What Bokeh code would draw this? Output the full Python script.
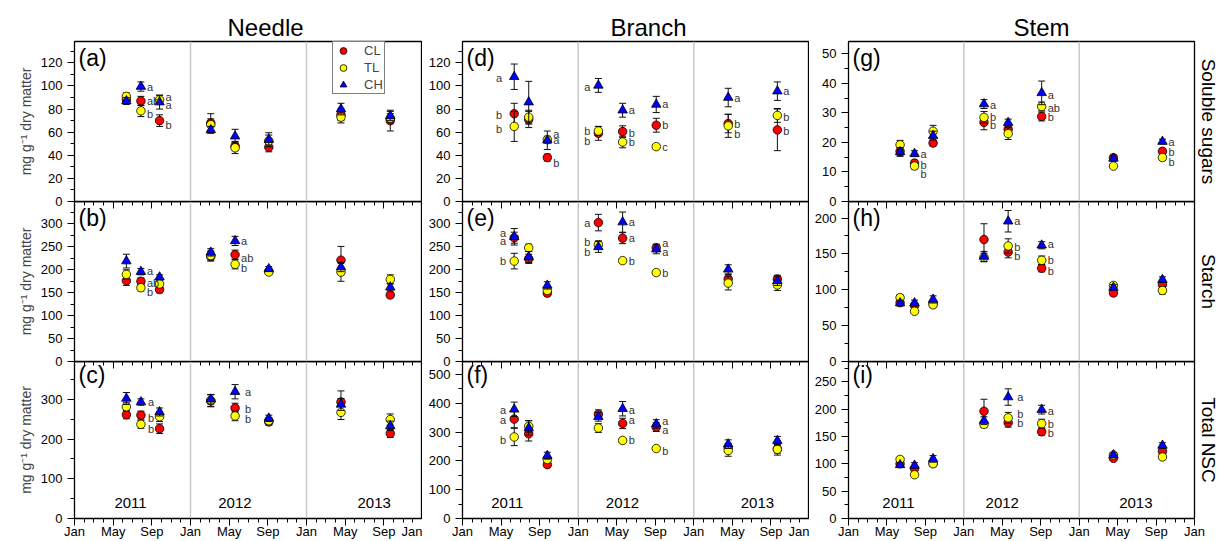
import calendar
from bokeh.plotting import figure
from bokeh.models import Range1d, FixedTicker, Span, Label, Legend, LegendItem, Title, LinearAxis
from bokeh.layouts import row, column
from bokeh.embed import file_html
from bokeh.resources import INLINE
from bokeh.core.properties import value

# ---------------- data ----------------
sample_dates = ["2011-06-12", "2011-07-28", "2011-09-25", "2012-03-04",
                "2012-05-20", "2012-09-04", "2013-04-18", "2013-09-21"]
treatments = ["CL", "TL", "CH"]
organs = ["Needle", "Branch", "Stem"]
variables = ["Soluble sugars", "Starch", "Total NSC"]
panel_tags = [["(a)", "(b)", "(c)"], ["(d)", "(e)", "(f)"], ["(g)", "(h)", "(i)"]]
month_labels = ["Jan", "May", "Sep", "Jan", "May", "Sep", "Jan", "May", "Sep", "Jan"]
year_labels = ["2011", "2012", "2013"]
y_title = "mg g\u207b\u00b9 dry matter"

# Needle
needle_sugar = {"CL": [88, 87, 70, 68, 48, 47, 75, 70],
                "TL": [91, 78.5, 88, 66.5, 46.5, 52.5, 73, 72],
                "CH": [87, 99.5, 86, 62, 56.5, 53.5, 80, 74]}
needle_sugar_se = {"CL": [3, 4, 5, 8, 4, 4, 5, 9],
                   "TL": [3, 5, 4, 5, 5, 5, 5, 4],
                   "CH": [3, 4, 6, 3, 6, 6, 5, 4]}
needle_sugar_sig = {"CL": ["", "ab", "b", "", "", "", "", ""],
                    "TL": ["", "b", "a", "", "", "", "", ""],
                    "CH": ["", "a", "a", "", "", "", "", ""]}

needle_starch = {"CL": [176, 175, 157, 229, 233, 197, 221, 145],
                 "TL": [190, 161, 169, 231, 212, 195, 195, 179],
                 "CH": [219, 196, 184, 238, 263, 202, 206, 162]}
needle_starch_se = {"CL": [10, 7, 7, 10, 10, 5, 30, 6],
                    "TL": [10, 7, 7, 10, 10, 5, 20, 10],
                    "CH": [15, 7, 5, 8, 10, 5, 10, 8]}
needle_starch_sig = {"CL": ["", "ab", "", "", "ab", "", "", ""],
                     "TL": ["", "b", "", "", "b", "", "", ""],
                     "CH": ["", "a", "", "", "a", "", "", ""]}

needle_nsc = {"CL": [261, 260, 226, 296, 278, 243, 293, 214],
              "TL": [281, 237, 256, 297, 258, 246, 267, 249],
              "CH": [302, 293, 268, 300, 319, 252, 287, 233]}
needle_nsc_se = {"CL": [10, 10, 12, 15, 12, 8, 28, 10],
                 "TL": [10, 10, 12, 15, 12, 8, 18, 14],
                 "CH": [15, 8, 10, 12, 18, 8, 15, 12]}
needle_nsc_sig = {"CL": ["", "b", "", "", "b", "", "", ""],
                  "TL": ["", "b", "", "", "b", "", "", ""],
                  "CH": ["", "a", "", "", "a", "", "", ""]}

# Branch
branch_sugar = {"CL": [76, 71, 38, 59, 60.5, 66, 67.5, 62],
                "TL": [65, 73, 53.5, 61, 51.5, 47.5, 65.5, 74.5],
                "CH": [108, 86, 53, 100.5, 79, 84, 90, 95.5]}
branch_sugar_se = {"CL": [9, 7, 3, 6, 5, 6, 8, 18],
                   "TL": [13, 6, 3, 4, 5, 2, 10, 6],
                   "CH": [11, 18, 8, 6, 6, 7, 8, 8]}
branch_sugar_sig = {"CL": ["b", "", "b", "b", "b", "b", "b", "b"],
                    "TL": ["b", "", "a", "b", "b", "c", "b", "b"],
                    "CH": ["a", "", "a", "a", "a", "a", "a", "a"]}

branch_starch = {"CL": [270, 224, 149, 303, 269, 248, 180, 180],
                 "TL": [219, 248, 155, 255, 220, 194, 171, 167],
                 "CH": [272, 228, 166, 250, 304, 245, 201, 176]}
branch_starch_se = {"CL": [12, 10, 6, 18, 12, 8, 10, 8],
                    "TL": [17, 8, 6, 8, 5, 5, 15, 12],
                    "CH": [18, 12, 8, 12, 22, 10, 10, 10]}
branch_starch_sig = {"CL": ["a", "", "", "a", "a", "a", "", ""],
                     "TL": ["b", "", "", "b", "b", "b", "", ""],
                     "CH": ["a", "", "", "b", "a", "a", "", ""]}

branch_nsc = {"CL": [345, 294, 187, 362, 330, 317, 246, 242],
              "TL": [283, 320, 205, 314, 271, 243, 236, 240],
              "CH": [379, 314, 218, 353, 381, 328, 258, 270]}
branch_nsc_se = {"CL": [30, 25, 10, 15, 18, 15, 15, 15],
                 "TL": [30, 20, 10, 15, 8, 6, 20, 20],
                 "CH": [25, 25, 12, 15, 25, 15, 15, 15]}
branch_nsc_sig = {"CL": ["a", "", "", "", "a", "a", "", ""],
                  "TL": ["b", "", "", "", "b", "b", "", ""],
                  "CH": ["a", "", "", "", "a", "a", "", ""]}

# Stem
stem_sugar = {"CL": [17, 13, 19.8, 26.8, 24.5, 28.8, 14.8, 17],
              "TL": [19.2, 12, 23.8, 28.5, 23, 32.2, 12, 14.9],
              "CH": [16.8, 16.2, 22.3, 33, 26.7, 36.8, 14.6, 20.3]}
stem_sugar_se = {"CL": [1.5, 1, 1, 2.5, 2, 1.5, 1, 1],
                 "TL": [1.5, 1, 2, 2, 2, 1.5, 0.8, 1],
                 "CH": [1.5, 1, 1.5, 1.5, 1.2, 4, 0.8, 0.8]}
stem_sugar_sig = {"CL": ["", "b", "", "b", "", "b", "", "b"],
                  "TL": ["", "b", "", "b", "", "ab", "", "b"],
                  "CH": ["", "a", "", "a", "", "a", "", "a"]}

stem_starch = {"CL": [82, 78, 81, 170, 152.5, 130, 95.5, 107],
               "TL": [89, 70, 79, 145, 161, 141, 106, 99],
               "CH": [81.5, 81.5, 86.5, 146.5, 195.5, 162, 103, 114]}
stem_starch_se = {"CL": [4, 4, 4, 22, 8, 5, 4, 5],
                  "TL": [4, 3, 4, 6, 10, 6, 4, 5],
                  "CH": [4, 4, 5, 7, 15, 5, 4, 4]}
stem_starch_sig = {"CL": ["", "", "", "", "b", "b", "", ""],
                   "TL": ["", "", "", "", "b", "b", "", ""],
                   "CH": ["", "", "", "", "a", "a", "", ""]}

stem_nsc = {"CL": [100, 91, 101, 196, 175, 158.5, 110, 123],
            "TL": [108, 80, 100, 172, 184, 173.5, 116, 112.5],
            "CH": [98, 97, 109, 179, 222, 199, 116, 133.5]}
stem_nsc_se = {"CL": [5, 4, 5, 22, 8, 6, 4, 5],
               "TL": [4, 4, 5, 6, 10, 8, 4, 5],
               "CH": [4, 5, 6, 7, 15, 8, 4, 5]}
stem_nsc_sig = {"CL": ["", "", "", "", "b", "b", "", ""],
                "TL": ["", "", "", "", "b", "b", "", ""],
                "CH": ["", "", "", "", "a", "a", "", ""]}

panel_data = [
    [(needle_sugar, needle_sugar_se, needle_sugar_sig),
     (needle_starch, needle_starch_se, needle_starch_sig),
     (needle_nsc, needle_nsc_se, needle_nsc_sig)],
    [(branch_sugar, branch_sugar_se, branch_sugar_sig),
     (branch_starch, branch_starch_se, branch_starch_sig),
     (branch_nsc, branch_nsc_se, branch_nsc_sig)],
    [(stem_sugar, stem_sugar_se, stem_sugar_sig),
     (stem_starch, stem_starch_se, stem_starch_sig),
     (stem_nsc, stem_nsc_se, stem_nsc_sig)],
]


def month_pos(s):
    y, m, d = map(int, s.split("-"))
    return (y - 2011) * 12 + (m - 1) + (d - 1) / calendar.monthrange(y, m)[1]


xs = [month_pos(s) for s in sample_dates]

# ---------------- style ----------------
FONT = "Liberation Sans"
FRAME_H = 160
OVERLAP = 10
col_geo = [(74, 348, 0), (40, 347, 0), (39, 346, 29)]
row_top = [41, 0, 0]
row_bottom = [OVERLAP, OVERLAP, 20]
title_offset = [153, 148, 165]
year_pos = [[5.8, 16.6, 31.0], [4.65, 16.6, 30.6], [5.2, 16.0, 29.9]]
major_months = list(range(0, 37, 4))
minor_months = [m for m in range(37) if m % 4]

y_axes = [
    [(138.5, range(0, 121, 20), range(10, 131, 20)),
     (349, range(0, 301, 50), range(25, 326, 50)),
     (395, range(0, 301, 100), range(50, 351, 100))],
    [(138.5, range(0, 121, 20), range(10, 131, 20)),
     (349, range(0, 301, 50), range(25, 326, 50)),
     (545, range(0, 501, 100), range(50, 451, 100))],
    [(54.2, range(0, 51, 10), range(5, 46, 10)),
     (223, range(0, 201, 50), range(25, 176, 50)),
     (287, range(0, 251, 50), range(25, 276, 50))],
]

colors = {"CL": "#ff0000", "TL": "#ffff00", "CH": "#0000ff"}
markers = {"CL": "circle", "TL": "circle", "CH": "triangle"}
msize = {"CL": 8.5, "TL": 8.5, "CH": 9.5}

left_side = {("(d)", 0), ("(d)", 3), ("(e)", 0), ("(e)", 3), ("(f)", 0)}
xoff = {("(c)", 4): 10, ("(i)", 4): 9, ("(d)", 0): -12, ("(c)", 1): 7}
nudge = {
    ("(a)", "TL", 1): -3.3, ("(a)", "TL", 2): 2.7, ("(a)", "CH", 2): -2.7, ("(a)", "CL", 2): -4.3,
    ("(d)", "CH", 0): -1, ("(d)", "CL", 0): -1, ("(d)", "TL", 0): -2.3, ("(d)", "TL", 2): 5.3,
    ("(d)", "CL", 2): -5, ("(d)", "CH", 3): -2, ("(d)", "CL", 3): -7.7, ("(d)", "CL", 4): -1.3,
    ("(d)", "TL", 6): -8, ("(d)", "TL", 7): -1.7, ("(d)", "CL", 7): -1.3,
    ("(g)", "CL", 1): -2.3, ("(g)", "TL", 1): -7.7, ("(g)", "CH", 3): -1.3, ("(g)", "CL", 3): -3,
    ("(g)", "CH", 5): -2, ("(g)", "TL", 5): -1.7, ("(g)", "CL", 5): -1, ("(g)", "CL", 7): -1,
    ("(g)", "TL", 7): -4,
    ("(b)", "CH", 1): 1, ("(b)", "CL", 1): -2, ("(b)", "TL", 1): -4.3, ("(b)", "CL", 4): -3,
    ("(b)", "TL", 4): -3.3,
    ("(e)", "CH", 0): 3.7, ("(e)", "CL", 0): -3, ("(e)", "TL", 3): 2.7, ("(e)", "CH", 3): -5.3,
    ("(e)", "CL", 5): 5, ("(e)", "CH", 5): -3,
    ("(h)", "TL", 4): -1, ("(h)", "CL", 4): -4.3, ("(h)", "CH", 5): 1, ("(h)", "CL", 5): -3,
    ("(c)", "CL", 1): -2.7, ("(c)", "TL", 1): -4.7, ("(c)", "CL", 4): -1.3, ("(c)", "TL", 4): -3,
    ("(f)", "CH", 0): -1, ("(f)", "CL", 0): -1, ("(f)", "TL", 0): -2.7, ("(f)", "CH", 4): -1.7,
    ("(f)", "CL", 4): 3.7, ("(f)", "CH", 5): 3.3, ("(f)", "CL", 5): -3.3, ("(f)", "TL", 5): -2.7,
    ("(i)", "TL", 4): 3.7, ("(i)", "CH", 5): -1, ("(i)", "CL", 5): -1.3,
}


def add_letters(p, tag, data, sig):
    for side in ("right", "left"):
        X, Y, T, XO, YO = [], [], [], [], []
        for s in treatments:
            for i, lab in enumerate(sig[s]):
                if not lab:
                    continue
                is_left = (tag, i) in left_side
                if (side == "left") != is_left:
                    continue
                X.append(xs[i])
                Y.append(data[s][i])
                T.append(lab)
                XO.append(xoff.get((tag, i), -8 if is_left else 6))
                YO.append(-nudge.get((tag, s, i), 0))
        if X:
            p.text(x=X, y=Y, text=T, x_offset=XO, y_offset=YO,
                   text_align="right" if side == "left" else "left",
                   text_baseline="middle", text_font_size="11px",
                   text_color="#333333", text_font=value(FONT))


def make_panel(ci, ri):
    lb, fw, rb = col_geo[ci]
    tb, bb = row_top[ri], row_bottom[ri]
    ytop, majors, minors = y_axes[ci][ri]
    p = figure(width=lb + fw + rb, height=tb + FRAME_H + bb,
               x_range=Range1d(0, 36), y_range=Range1d(0, ytop),
               output_backend="svg", toolbar_location=None, tools="", title=None,
               min_border_left=lb, min_border_right=rb,
               min_border_top=tb, min_border_bottom=bb,
               background_fill_color=None, border_fill_color=None,
               outline_line_color="black", outline_line_width=1.3)
    p.grid.visible = False

    xa = p.xaxis[0]
    xa.major_tick_in = 0
    xa.minor_tick_in = 0
    xa.axis_line_color = "black"
    xa.major_tick_line_color = "black"
    xa.minor_tick_line_color = "black"
    if ri < 2:
        # only the tick marks at the shared border (no labels)
        xa.ticker = FixedTicker(ticks=[], minor_ticks=major_months)
        xa.minor_tick_out = 7
        xa.major_tick_out = 0
        xa.major_label_standoff = 0
    else:
        xa.ticker = FixedTicker(ticks=major_months, minor_ticks=list(range(37)))
        xa.major_label_overrides = {t: lab for t, lab in zip(major_months, month_labels)}
        xa.major_tick_out = 7
        xa.minor_tick_out = 4
        xa.major_label_text_font = FONT
        xa.major_label_text_font_size = "13px"
        xa.major_label_text_color = "black"
        xa.major_label_standoff = -2
    if ri > 0:
        top_ax = LinearAxis(ticker=FixedTicker(ticks=[], minor_ticks=minor_months),
                            major_tick_in=0, major_tick_out=0,
                            minor_tick_in=4, minor_tick_out=0,
                            major_label_standoff=0,
                            axis_line_color="black", minor_tick_line_color="black")
        p.add_layout(top_ax, "above")

    ya = p.yaxis[0]
    ya.ticker = FixedTicker(ticks=list(majors), minor_ticks=list(minors))
    ya.major_tick_out = 7
    ya.major_tick_in = 0
    ya.minor_tick_out = 4
    ya.minor_tick_in = 0
    ya.major_label_standoff = 5
    ya.major_label_text_font = FONT
    ya.major_label_text_font_size = "13px"
    ya.major_label_text_color = "black"
    ya.axis_line_color = "black"
    if ci == 0:
        ya.axis_label = y_title
        ya.axis_label_text_font = FONT
        ya.axis_label_text_font_size = "14px"
        ya.axis_label_text_font_style = "normal"
        ya.axis_label_standoff = 4

    for loc in (12, 24):
        p.add_layout(Span(location=loc, dimension="height", line_color="#c8c8c8",
                          line_width=1.5, level="underlay"))

    data, se, sig = panel_data[ci][ri]
    rends = {}
    for s in treatments:
        v = data[s]
        e = se[s]
        lo = [a - b for a, b in zip(v, e)]
        hi = [a + b for a, b in zip(v, e)]
        p.segment(x0=xs, y0=lo, x1=xs, y1=hi, line_color="#111111", line_width=1)
        p.scatter(x=xs, y=hi, marker="dash", size=7, line_color="#111111", line_width=1)
        p.scatter(x=xs, y=lo, marker="dash", size=7, line_color="#111111", line_width=1)
        rends[s] = p.scatter(x=xs, y=v, marker=markers[s], size=msize[s],
                             fill_color=colors[s], line_color="black", line_width=0.8)

    tag = panel_tags[ci][ri]
    add_letters(p, tag, data, sig)

    p.add_layout(Label(x=4, y=FRAME_H - 3, x_units="screen", y_units="screen", text=tag,
                       text_baseline="top", text_font=FONT, text_font_size="23px",
                       text_color="black"))

    if ri == 2:
        for pos, yr in zip(year_pos[ci], year_labels):
            p.add_layout(Label(x=pos, y=16, y_units="screen", text=yr, text_align="center",
                               text_baseline="middle", text_font=FONT, text_font_size="15px",
                               text_color="black"))
    if ri == 0:
        p.add_layout(Title(text=organs[ci], align="left", offset=title_offset[ci],
                           text_font=FONT, text_font_size="24px", text_font_style="normal",
                           text_color="black", standoff=2), "above")
    if ci == 2:
        p.add_layout(Title(text=variables[ri], align="center", text_font=FONT,
                           text_font_size="19px", text_font_style="normal",
                           text_color="black", standoff=6), "right")

    if ci == 0 and ri == 0:
        leg = Legend(items=[LegendItem(label=s, renderers=[rends[s]]) for s in treatments],
                     location=(258, 107), glyph_width=20, glyph_height=17, spacing=0,
                     padding=0, margin=0, label_standoff=11, label_width=20, label_height=14,
                     label_text_font=FONT, label_text_font_size="13px",
                     border_line_color="black", border_line_width=1,
                     background_fill_color="white", background_fill_alpha=1.0)
        p.add_layout(leg)
    return p


figs = [[make_panel(ci, ri) for ri in range(3)] for ci in range(3)]

rows = []
for ri in range(3):
    r = row(*[figs[ci][ri] for ci in range(3)])
    if ri > 0:
        r.styles = {"margin-top": f"-{OVERLAP}px"}
    rows.append(r)

root = column(*rows)

open("out.html", "w").write(file_html(root, INLINE))
